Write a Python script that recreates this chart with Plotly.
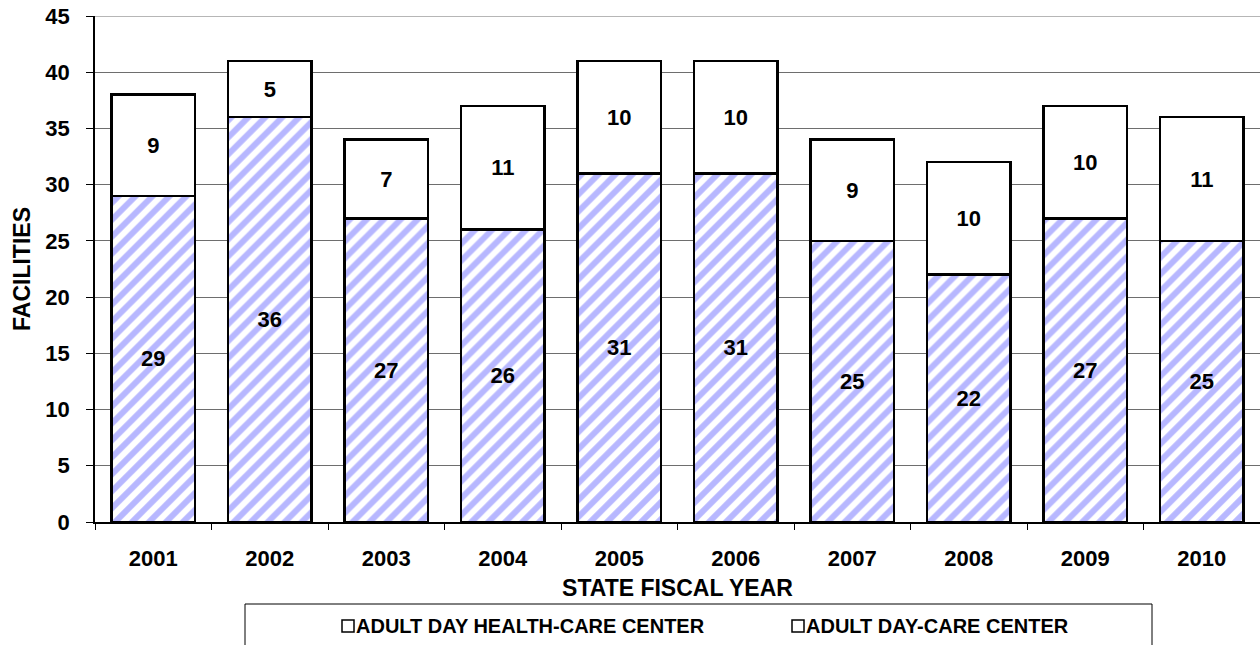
import plotly.graph_objects as go

years = ["2001", "2002", "2003", "2004", "2005", "2006", "2007", "2008", "2009", "2010"]
health_care = [29, 36, 27, 26, 31, 31, 25, 22, 27, 25]
day_care = [9, 5, 7, 11, 10, 10, 9, 10, 10, 11]
y_ticks = [0, 5, 10, 15, 20, 25, 30, 35, 40, 45]
legend_names = ["ADULT DAY HEALTH-CARE CENTER", "ADULT DAY-CARE CENTER"]

FONT = "Arial, Liberation Sans, sans-serif"
GRID = "#6e6e6e"
W, H = 1260, 645
ML, MR, MT, MB = 95, 0, 16, 123
PW, PH = W - ML - MR, H - MT - MB


def px_x(x):  # page px -> paper
    return (x - ML) / PW


def px_y(y):
    return (H - MB - y) / PH


fig = go.Figure()
fig.add_trace(go.Bar(
    x=years, y=health_care, name=legend_names[0],
    text=[str(v) for v in health_care], textposition="inside", insidetextanchor="middle",
    textfont=dict(family=FONT, size=22, color="black", weight="bold"),
    marker=dict(color="white", line=dict(color="black", width=2.5),
                pattern=dict(shape="/", fgcolor="#7070ff", bgcolor="white", size=12, solidity=0.5)),
    showlegend=False,
))
fig.add_trace(go.Bar(
    x=years, y=day_care, name=legend_names[1],
    text=[str(v) for v in day_care], textposition="inside", insidetextanchor="middle",
    textfont=dict(family=FONT, size=22, color="black", weight="bold"),
    marker=dict(color="white", line=dict(color="black", width=2.5)),
    showlegend=False,
))

shapes = [
    # top gridline (plotly drops the gridline lying on the plot edge)
    dict(type="line", xref="paper", yref="y", x0=0, x1=1, y0=y_ticks[-1], y1=y_ticks[-1],
         line=dict(color=GRID, width=1), layer="below"),
    dict(type="rect", xref="paper", yref="paper",
         x0=px_x(245), x1=px_x(1152), y0=px_y(660), y1=px_y(604),
         line=dict(color="black", width=1), fillcolor="rgba(0,0,0,0)"),
]
annotations = []
legend_x = [342, 792]
for lx, nm in zip(legend_x, legend_names):
    shapes.append(dict(type="rect", xref="paper", yref="paper",
                       x0=px_x(lx), x1=px_x(lx + 12), y0=px_y(632), y1=px_y(620),
                       line=dict(color="black", width=1.5), fillcolor="white"))
    annotations.append(dict(text=nm, xref="paper", yref="paper", x=px_x(lx + 12), y=px_y(626),
                            xanchor="left", yanchor="middle", showarrow=False,
                            font=dict(family=FONT, size=20, color="black", weight="bold")))

fig.update_layout(
    width=W, height=H,
    margin=dict(l=ML, r=MR, t=MT, b=MB),
    barmode="stack", bargap=0.28,
    plot_bgcolor="white", paper_bgcolor="white",
    font=dict(family=FONT, size=22, color="black"),
    uniformtext=dict(minsize=22, mode="show"),
    xaxis=dict(
        type="category", showline=True, linecolor="black", linewidth=1.5,
        ticks="outside", ticklen=6, tickcolor="black", tickson="boundaries",
        ticklabelstandoff=16, automargin=False,
        tickfont=dict(family=FONT, size=22, color="black", weight="bold"),
        title=dict(text="STATE FISCAL YEAR", standoff=10,
                   font=dict(family=FONT, size=23, color="black", weight="bold")),
    ),
    yaxis=dict(
        range=[0, 45], tickvals=y_ticks, showline=True, linecolor="black", linewidth=1.5,
        ticks="outside", ticklen=7, tickcolor="black", automargin=False,
        ticklabelstandoff=12, ticklabeloverflow="allow",
        showgrid=True, gridcolor=GRID, gridwidth=1,
        tickfont=dict(family=FONT, size=22, color="black", weight="bold"),
        title=dict(text="FACILITIES", standoff=8,
                   font=dict(family=FONT, size=23, color="black", weight="bold")),
    ),
    showlegend=False,
    shapes=shapes,
    annotations=annotations,
)

fig.write_html("out.html", config={"displayModeBar": False},
               post_script="document.body.style.margin='0';")
